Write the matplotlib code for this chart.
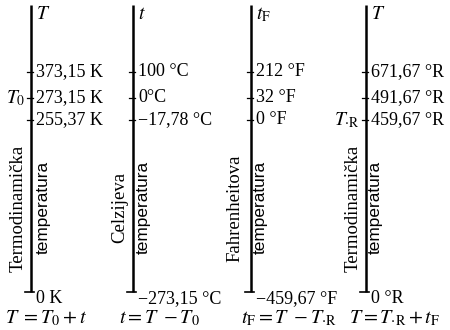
import matplotlib
matplotlib.use("Agg")
import matplotlib.pyplot as plt
import numpy as np

plt.rcParams['mathtext.fontset'] = 'stix'
plt.rcParams['font.family'] = ['Liberation Serif', 'DejaVu Serif']

# same four temperatures on every scale
kelvin = [373.15, 273.15, 255.37, 0.0]
celsius = [100.0, 0.0, -17.78, -273.15]
fahrenheit = [212.0, 32.0, 0.0, -459.67]
rankine = [671.67, 491.67, 459.67, 0.0]

kelvin_labels = ["373,15 K", "273,15 K", "255,37 K", "0 K"]
celsius_labels = ["100 °C", "0°C", "\u221217,78 °C", "\u2212273,15 °C"]
fahrenheit_labels = ["212 °F", "32 °F", "0 °F", "\u2212459,67 °F"]
rankine_labels = ["671,67 °R", "491,67 °R", "459,67 °R", "0 °R"]

headers = ["$T$", "$t$", "$t_\\mathrm{F}$", "$T$"]
names = ["Termodinamička", "Celzijeva", "Fahrenheitova", "Termodinamička"]
formulas = ["$T\\ = T_0 + t$", "$t = T\\ - T_0$",
            "$t_\\mathrm{F} = T\\ - T_{\\cdot\\mathrm{R}}$",
            "$T = T_{\\cdot\\mathrm{R}} + t_\\mathrm{F}$"]

# everything expressed in kelvin for the common vertical scale
columns = [
    (np.array(kelvin), kelvin_labels),
    (np.array(celsius) + 273.15, celsius_labels),
    ((np.array(fahrenheit) + 459.67) * 5 / 9, fahrenheit_labels),
    (np.array(rankine) * 5 / 9, rankine_labels),
]

# schematic (broken) scale: the range 0..255 K is squeezed together
knots_k = [-150.0, 0.0, 255.37, 273.15, 373.15, 630.0, 650.0]
knots_y = [0.0, 38.0, 210.0, 232.0, 258.0, 325.0, 330.0]


def forward(k):
    return np.interp(k, knots_k, knots_y)


def inverse(y):
    return np.interp(y, knots_y, knots_k)


col_x = [31, 133, 251, 366]
name_dx = [-13, -13, -16, -13]
temp_dx = [12, 10, 9, 9]
formula_x = [5, 119, 241, 349]
top_k = 630.0

fig = plt.figure(figsize=(4.5, 3.3), dpi=100)
ax = fig.add_axes([0, 0, 1, 1])
ax.set_xlim(0, 450)
ax.set_yscale('function', functions=(forward, inverse))
ax.set_ylim(-150, 650)
ax.axis('off')

for i, (x, (vals, labels)) in enumerate(zip(col_x, columns)):
    ax.plot([x, x], [0, top_k], color='black', lw=1.8, solid_capstyle='butt')
    # base of the scale at absolute zero
    ax.plot([x - 6, x + 3], [0, 0], color='black', lw=1.2)
    for v, lab in zip(vals[:-1], labels[:-1]):
        ax.plot([x - 4, x + 2], [v, v], color='black', lw=0.9)
        ax.text(x + 5, v, lab, fontsize=13, ha='left', va='center')
    ax.annotate(labels[-1], (x + 5, vals[-1]), xytext=(0, -5),
                textcoords='offset points', fontsize=13,
                ha='left', va='center')

    ax.text(x + 5, 0.955, headers[i], transform=ax.get_xaxis_transform(),
            fontsize=14, ha='left', va='center')
    ax.text(x + name_dx[i], 0.37, names[i], transform=ax.get_xaxis_transform(),
            fontsize=13.5, rotation=90, ha='center', va='center')
    ax.text(x + temp_dx[i], 0.372, "temperatura",
            transform=ax.get_xaxis_transform(), family='Liberation Sans',
            fontsize=12.4, rotation=90, ha='center', va='center')
    ax.text(formula_x[i], 0.036, formulas[i], transform=ax.get_xaxis_transform(),
            fontsize=14.5, ha='left', va='center')

ax.text(col_x[0] - 6, kelvin[1], "$T_0$", fontsize=14, ha='right', va='center')
ax.text(col_x[3] - 6, rankine[2] * 5 / 9, "$T_{\\cdot\\mathrm{R}}$",
        fontsize=14, ha='right', va='center')

fig.savefig("out.png", dpi=100)
